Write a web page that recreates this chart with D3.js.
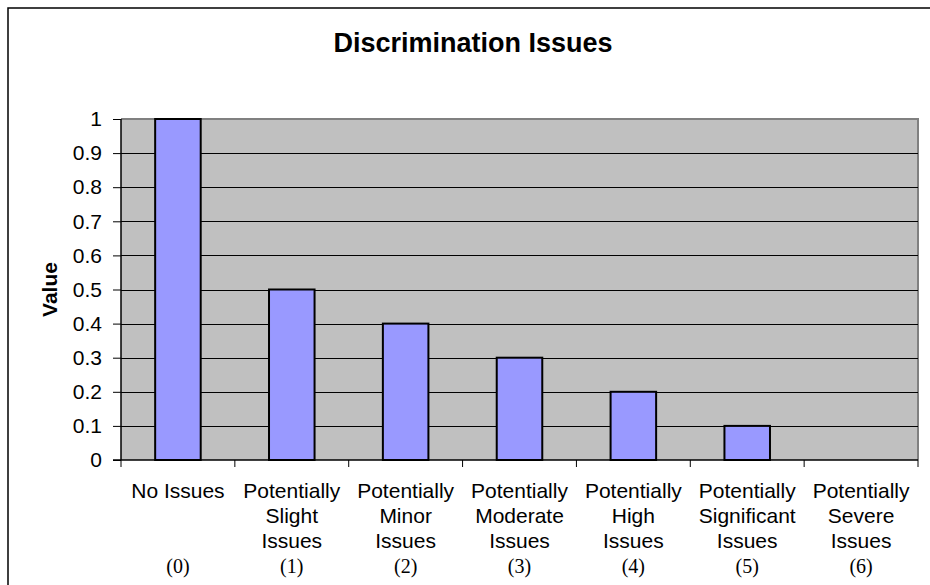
<!DOCTYPE html>
<html><head><meta charset="utf-8">
<script src="https://cdn.jsdelivr.net/npm/d3@7"></script>
<style>html,body{margin:0;padding:0;background:#fff;overflow:hidden}</style>
</head><body>
<script>
const categories = [
  ["No Issues"],
  ["Potentially","Slight","Issues"],
  ["Potentially","Minor","Issues"],
  ["Potentially","Moderate","Issues"],
  ["Potentially","High","Issues"],
  ["Potentially","Significant","Issues"],
  ["Potentially","Severe","Issues"]
];
const codes = ["(0)","(1)","(2)","(3)","(4)","(5)","(6)"];
const values = [1, 0.5, 0.4, 0.3, 0.2, 0.1, 0];
const yTicks = [0,0.1,0.2,0.3,0.4,0.5,0.6,0.7,0.8,0.9,1];
const yTickLabels = ["0","0.1","0.2","0.3","0.4","0.5","0.6","0.7","0.8","0.9","1"];
const title = "Discrimination Issues";
const yTitle = "Value";

const W = 930, H = 585;
const L = 121, R = 918, T = 119, B = 460;
const sans = "'Liberation Sans', Arial, sans-serif";
const serif = "'Liberation Serif', 'Times New Roman', serif";

const svg = d3.select("body").append("svg").attr("width", W).attr("height", H);

svg.append("rect").attr("x", 8).attr("y", 8).attr("width", 940).attr("height", 600)
  .attr("fill", "#fff").attr("stroke", "#000").attr("stroke-width", 1.5);

const x = d3.scaleBand().domain(d3.range(categories.length)).range([L, R]).paddingInner(0).paddingOuter(0);
const y = d3.scaleLinear().domain([0, 1]).range([B, T]);

// plot area
svg.append("rect").attr("x", L).attr("y", T).attr("width", R - L).attr("height", B - T).attr("fill", "#C0C0C0");
svg.append("path").attr("d", `M${L},${T}H${R}V${B}`).attr("fill", "none").attr("stroke", "#808080").attr("stroke-width", 2);

// gridlines
svg.append("g").selectAll("line").data(yTicks.filter(d => d > 0 && d < 1)).join("line")
  .attr("x1", L).attr("x2", R).attr("y1", d => Math.round(y(d)) + 0.5).attr("y2", d => Math.round(y(d)) + 0.5)
  .attr("stroke", "#000").attr("stroke-width", 1);

// bars
const bw = x.bandwidth() * 0.4;
svg.append("g").selectAll("rect").data(values).join("rect")
  .attr("x", (d, i) => x(i) + (x.bandwidth() - bw) / 2)
  .attr("y", d => y(d))
  .attr("width", bw)
  .attr("height", d => y(0) - y(d))
  .attr("fill", "#9999FF").attr("stroke", "#000").attr("stroke-width", 2)
  .attr("visibility", d => d > 0 ? "visible" : "hidden");

// y axis
const yAxis = d3.axisLeft(y).tickValues(yTicks).tickFormat((d, i) => yTickLabels[i]).tickSize(8).tickPadding(11);
const gy = svg.append("g").attr("transform", `translate(${L},0)`).call(yAxis);
gy.select(".domain").attr("stroke", "#000").attr("stroke-width", 1.5).attr("d", `M0,${T}V${B}`);
gy.selectAll(".tick line").attr("stroke", "#000");
gy.selectAll(".tick text").attr("font-family", sans).attr("font-size", 21).attr("fill", "#000");

// x axis
const bounds = d3.range(categories.length + 1).map(i => L + i * x.step());
const gx = svg.append("g");
gx.append("line").attr("x1", L - 8).attr("x2", R).attr("y1", B).attr("y2", B).attr("stroke", "#000").attr("stroke-width", 1.5);
gx.selectAll("line.t").data(bounds).join("line").attr("class", "t")
  .attr("x1", d => d).attr("x2", d => d).attr("y1", B).attr("y2", B + 7).attr("stroke", "#000");

// x labels
const lab = svg.append("g");
categories.forEach((lines, i) => {
  const cx = x(i) + x.bandwidth() / 2;
  const t = lab.append("text").attr("text-anchor", "middle").attr("font-family", sans).attr("font-size", 21).attr("fill", "#000");
  lines.forEach((s, j) => t.append("tspan").attr("x", cx).attr("y", 498 + j * 25).text(s));
  lab.append("text").attr("x", cx).attr("y", 573).attr("text-anchor", "middle")
    .attr("font-family", serif).attr("font-size", 20).attr("fill", "#000").text(codes[i]);
});

// title
svg.append("text").attr("x", 473).attr("y", 52).attr("text-anchor", "middle")
  .attr("font-family", sans).attr("font-weight", "bold").attr("font-size", 27).text(title);

// y title
svg.append("text").attr("transform", `translate(57,${(T + B) / 2}) rotate(-90)`).attr("text-anchor", "middle")
  .attr("font-family", sans).attr("font-weight", "bold").attr("font-size", 21).text(yTitle);
</script>
</body></html>
